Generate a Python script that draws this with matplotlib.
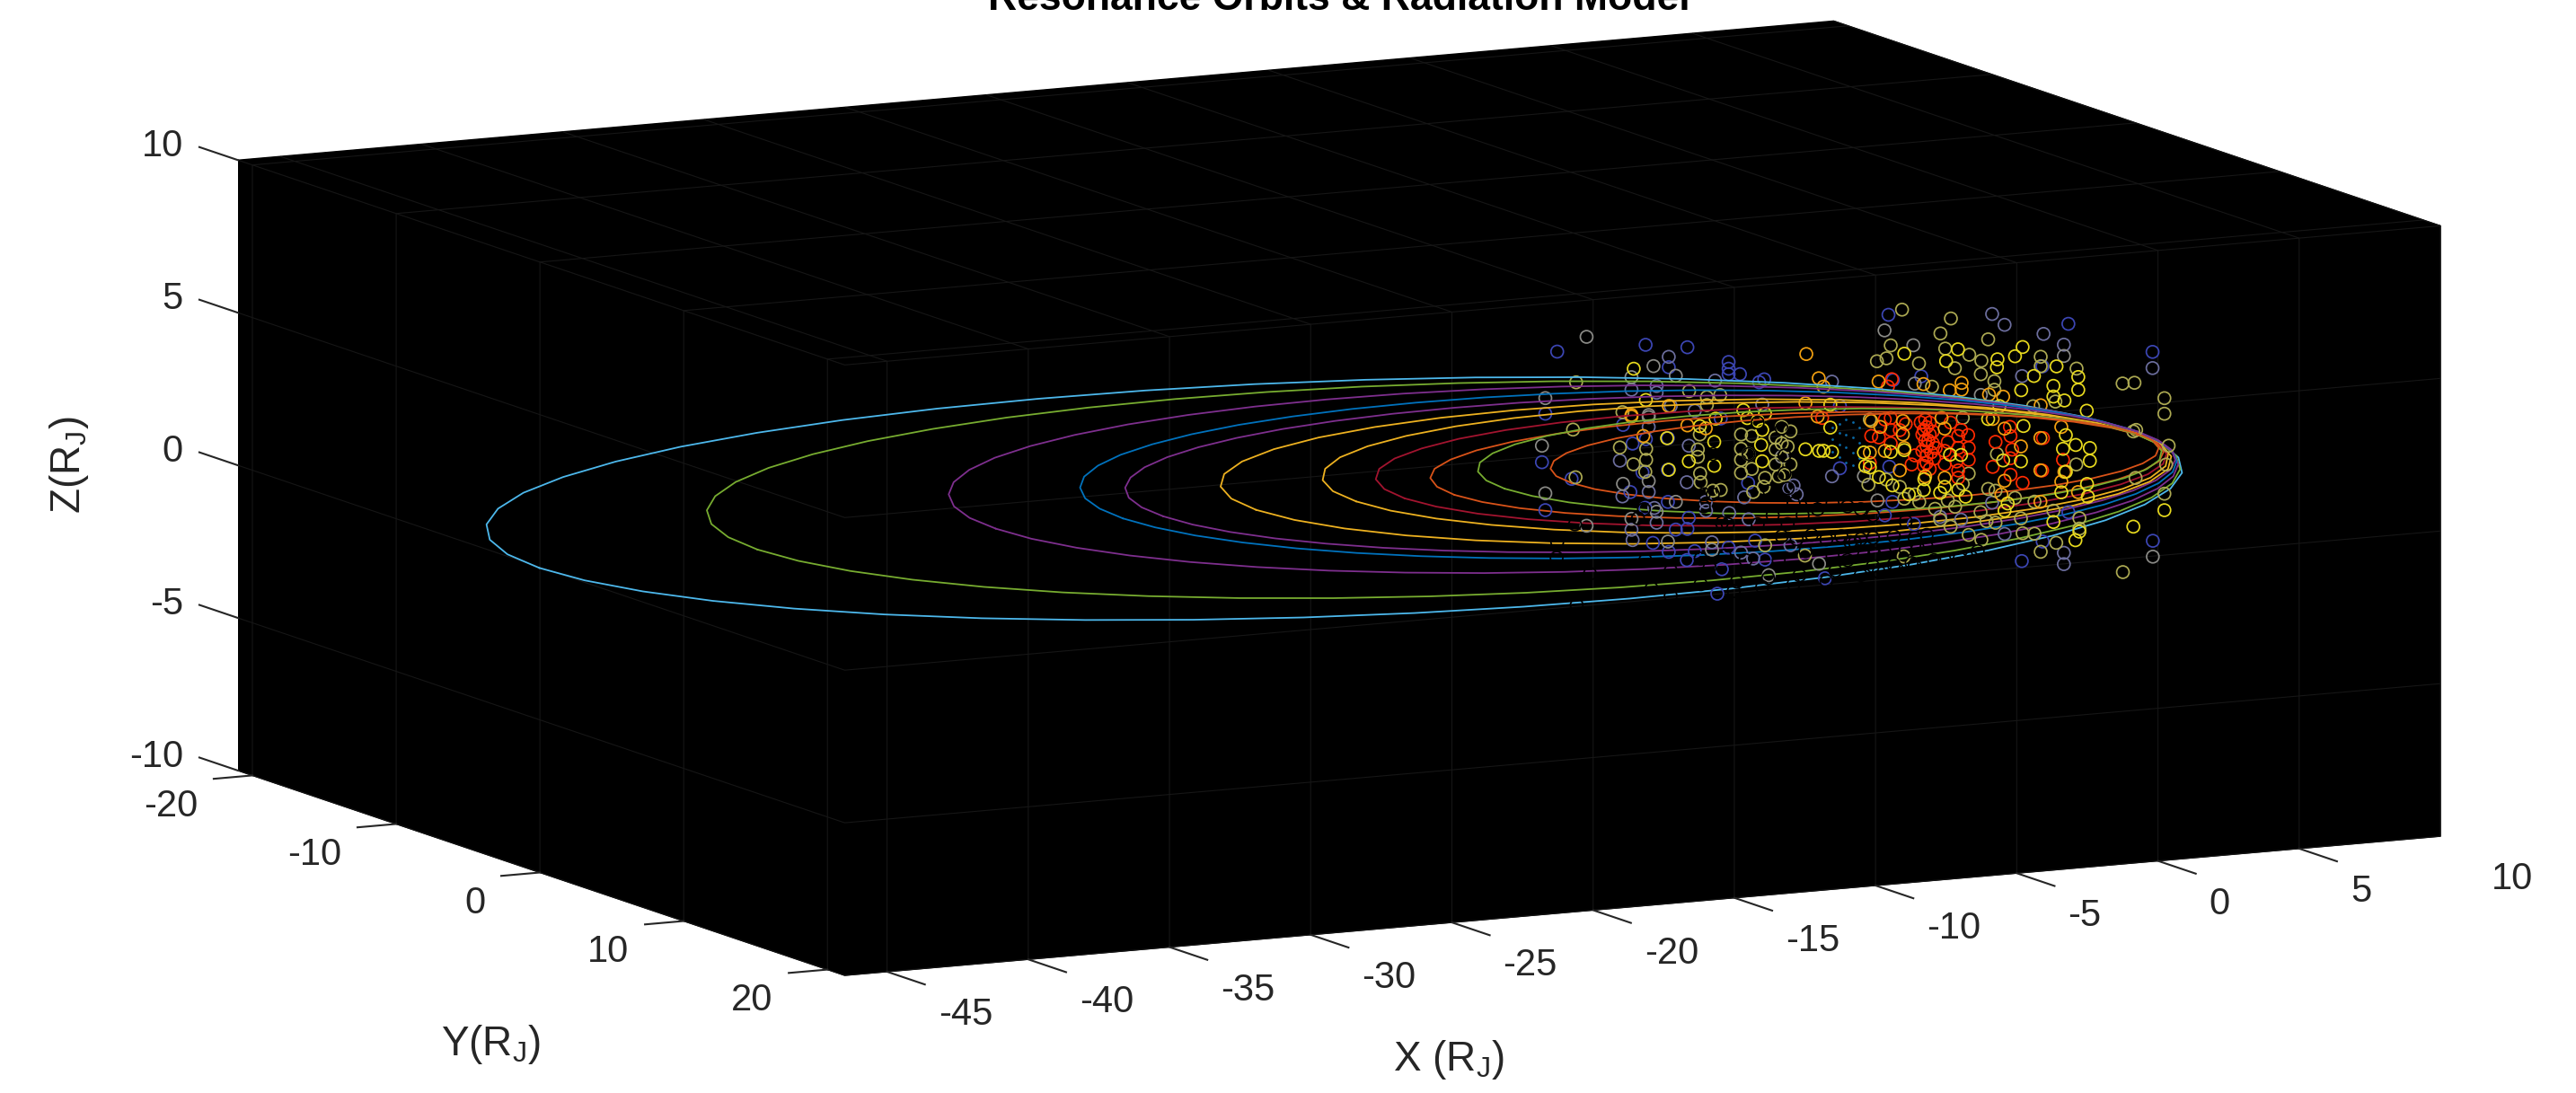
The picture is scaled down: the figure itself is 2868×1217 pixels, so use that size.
import matplotlib
matplotlib.use('AGG')
import matplotlib.pyplot as plt
from mpl_toolkits.mplot3d import proj3d

plt.rcParams['font.family'] = ['Liberation Sans', 'DejaVu Sans']
plt.rcParams['mathtext.fontset'] = 'custom'
plt.rcParams['mathtext.rm'] = 'Liberation Sans'
plt.rcParams['grid.color'] = '#161616'
plt.rcParams['grid.linewidth'] = 0.8

# axis ticks
x_ticks = [-45, -40, -35, -30, -25, -20, -15, -10, -5, 0, 5, 10]
y_ticks = [-20, -10, 0, 10, 20]
z_ticks = [-10, -5, 0, 5, 10]

orbit_z = 0.07

o1_x = [9.54, 9.31, 8.58, 7.41, 5.77, 3.72, 1.30, -1.47, -4.53, -7.83, -11.32, -14.93, -18.60, -22.27, -25.88, -29.37, -32.67, -35.73, -38.50, -40.93, -42.97, -44.61, -45.79, -46.51, -46.75]
o1_up = [0.45, 3.13, 5.77, 8.32, 10.74, 12.98, 15.00, 16.77, 18.27, 19.47, 20.33, 20.85, 21.03, 20.85, 20.33, 19.47, 18.27, 16.77, 15.00, 12.98, 10.74, 8.32, 5.77, 3.13, 0.45]
o1_low = [0.45, -2.24, -4.88, -7.43, -9.85, -12.09, -14.10, -15.88, -17.38, -18.57, -19.44, -19.96, -20.13, -19.96, -19.44, -18.57, -17.38, -15.88, -14.10, -12.09, -9.85, -7.43, -4.88, -2.24, 0.45]

o2_x = [9.51, 9.31, 8.68, 7.66, 6.26, 4.50, 2.40, 0.01, -2.63, -5.48, -8.50, -11.61, -14.78, -17.95, -21.06, -24.08, -26.93, -29.57, -31.96, -34.06, -35.82, -37.23, -38.25, -38.87, -39.08]
o2_up = [0.55, 2.99, 5.39, 7.70, 9.90, 11.93, 13.76, 15.38, 16.73, 17.81, 18.60, 19.07, 19.23, 19.07, 18.60, 17.81, 16.73, 15.38, 13.76, 11.93, 9.90, 7.70, 5.39, 2.99, 0.55]
o2_low = [0.55, -1.89, -4.28, -6.60, -8.79, -10.82, -12.66, -14.27, -15.63, -16.70, -17.50, -17.97, -18.13, -17.97, -17.50, -16.70, -15.63, -14.27, -12.66, -10.82, -8.79, -6.60, -4.28, -1.89, 0.55]

o3_x = [9.56, 9.40, 8.88, 8.03, 6.87, 5.41, 3.68, 1.70, -0.48, -2.85, -5.33, -7.91, -10.54, -13.16, -15.74, -18.22, -20.59, -22.77, -24.75, -26.48, -27.94, -29.10, -29.95, -30.47, -30.63]
o3_up = [0.54, 2.69, 4.80, 6.84, 8.77, 10.55, 12.17, 13.58, 14.78, 15.74, 16.42, 16.85, 16.98, 16.85, 16.42, 15.74, 14.78, 13.58, 12.17, 10.55, 8.77, 6.84, 4.80, 2.69, 0.54]
o3_low = [0.54, -1.60, -3.71, -5.75, -7.68, -9.47, -11.09, -12.50, -13.69, -14.65, -15.34, -15.76, -15.90, -15.76, -15.34, -14.65, -13.69, -12.50, -11.09, -9.47, -7.68, -5.75, -3.71, -1.60, 0.54]

o4_x = [9.60, 9.44, 8.99, 8.24, 7.21, 5.90, 4.36, 2.60, 0.66, -1.45, -3.67, -5.96, -8.30, -10.63, -12.93, -15.15, -17.25, -19.19, -20.96, -22.50, -23.81, -24.84, -25.59, -26.04, -26.20]
o4_up = [0.67, 2.60, 4.49, 6.32, 8.06, 9.67, 11.11, 12.39, 13.47, 14.32, 14.94, 15.32, 15.44, 15.32, 14.94, 14.32, 13.47, 12.39, 11.11, 9.67, 8.06, 6.32, 4.49, 2.60, 0.67]
o4_low = [0.67, -1.26, -3.15, -4.98, -6.72, -8.33, -9.78, -11.05, -12.13, -12.99, -13.60, -13.98, -14.10, -13.98, -13.60, -12.99, -12.13, -11.05, -9.78, -8.33, -6.72, -4.98, -3.15, -1.26, 0.67]

o5_x = [9.60, 9.45, 9.02, 8.29, 7.29, 6.04, 4.55, 2.85, 0.98, -1.05, -3.18, -5.40, -7.65, -9.89, -12.11, -14.25, -16.28, -18.15, -19.84, -21.33, -22.58, -23.58, -24.31, -24.75, -24.89]
o5_up = [0.90, 2.68, 4.43, 6.12, 7.71, 9.19, 10.53, 11.70, 12.70, 13.49, 14.06, 14.41, 14.52, 14.41, 14.06, 13.49, 12.70, 11.70, 10.53, 9.19, 7.71, 6.12, 4.43, 2.68, 0.90]
o5_low = [0.90, -0.87, -2.63, -4.32, -5.91, -7.39, -8.73, -9.90, -10.89, -11.69, -12.26, -12.61, -12.72, -12.61, -12.26, -11.69, -10.89, -9.90, -8.73, -7.39, -5.91, -4.32, -2.63, -0.87, 0.90]

o6_x = [9.41, 9.18, 8.47, 7.33, 5.77, 3.85, 1.63, -0.84, -3.46, -6.16, -8.86, -11.49, -13.95, -16.18, -18.10, -19.65, -20.80, -21.50, -21.74]
o6_up = [1.18, 3.37, 5.49, 7.50, 9.30, 10.86, 12.13, 13.06, 13.63, 13.82, 13.63, 13.06, 12.13, 10.86, 9.30, 7.50, 5.49, 3.37, 1.18]
o6_low = [1.18, -1.02, -3.14, -5.15, -6.95, -8.51, -9.78, -10.70, -11.27, -11.46, -11.27, -10.70, -9.78, -8.51, -6.95, -5.15, -3.14, -1.02, 1.18]

o7_x = [9.35, 9.14, 8.51, 7.50, 6.12, 4.42, 2.46, 0.27, -2.04, -4.44, -6.83, -9.15, -11.34, -13.30, -15.00, -16.37, -17.39, -18.02, -18.22]
o7_up = [1.22, 3.22, 5.18, 7.00, 8.66, 10.09, 11.24, 12.09, 12.61, 12.79, 12.61, 12.09, 11.24, 10.09, 8.66, 7.00, 5.18, 3.22, 1.22]
o7_low = [1.22, -0.79, -2.74, -4.57, -6.23, -7.65, -8.80, -9.66, -10.18, -10.36, -10.18, -9.66, -8.80, -7.65, -6.23, -4.57, -2.74, -0.79, 1.22]

o8_x = [9.37, 9.17, 8.58, 7.62, 6.33, 4.72, 2.87, 0.83, -1.36, -3.62, -5.87, -8.06, -10.11, -11.96, -13.56, -14.86, -15.82, -16.40, -16.60]
o8_up = [1.41, 3.20, 4.95, 6.59, 8.07, 9.34, 10.38, 11.14, 11.61, 11.77, 11.61, 11.14, 10.38, 9.34, 8.07, 6.59, 4.95, 3.20, 1.41]
o8_low = [1.41, -0.39, -2.13, -3.78, -5.26, -6.52, -7.57, -8.33, -8.79, -8.95, -8.79, -8.33, -7.57, -6.52, -5.26, -3.78, -2.13, -0.39, 1.41]

o9_x = [9.35, 9.17, 8.62, 7.73, 6.52, 5.02, 3.29, 1.37, -0.67, -2.78, -4.88, -6.92, -8.84, -10.58, -12.07, -13.29, -14.18, -14.72, -14.91]
o9_up = [1.55, 3.12, 4.65, 6.10, 7.38, 8.51, 9.42, 10.09, 10.50, 10.64, 10.50, 10.09, 9.42, 8.51, 7.38, 6.10, 4.65, 3.12, 1.55]
o9_low = [1.55, -0.03, -1.56, -3.01, -4.29, -5.42, -6.33, -7.00, -7.41, -7.55, -7.41, -7.00, -6.33, -5.42, -4.29, -3.01, -1.56, -0.03, 1.55]

o10_x = [9.35, 9.18, 8.67, 7.85, 6.73, 5.36, 3.76, 2.00, 0.12, -1.82, -3.76, -5.64, -7.40, -8.99, -10.37, -11.49, -12.31, -12.81, -12.98]
o10_up = [1.25, 2.85, 4.42, 5.89, 7.21, 8.36, 9.28, 9.96, 10.38, 10.52, 10.38, 9.96, 9.28, 8.36, 7.21, 5.89, 4.42, 2.85, 1.25]
o10_low = [1.25, -0.36, -1.92, -3.39, -4.71, -5.86, -6.78, -7.46, -7.89, -8.02, -7.89, -7.46, -6.78, -5.86, -4.71, -3.39, -1.92, -0.36, 1.25]

o11_x = [9.43, 9.28, 8.83, 8.09, 7.08, 5.85, 4.42, 2.83, 1.14, -0.60, -2.34, -4.02, -5.61, -7.04, -8.28, -9.28, -10.02, -10.48, -10.62]
o11_up = [1.27, 2.61, 3.91, 5.14, 6.23, 7.18, 7.95, 8.53, 8.87, 8.99, 8.87, 8.53, 7.95, 7.18, 6.23, 5.14, 3.91, 2.61, 1.27]
o11_low = [1.27, -0.07, -1.37, -2.59, -3.69, -4.64, -5.41, -5.98, -6.33, -6.45, -6.33, -5.98, -5.41, -4.64, -3.69, -2.59, -1.37, -0.07, 1.27]

# radiation rings by colour class (y is not readable in this view, kept at 0)
blue_x = [-10.48, -7.35, -6.53, -5.87, -4.41, -4.41, -4.41, -4.01, -3.15, -3.33, -10.90, -0.47, 1.25, 7.62, 10.60, 6.70, 2.41, 1.41, -8.15, -4.69, -6.56, -7.34, -7.81, -11.02, -7.46, -6.56, -0.47, -9.97, -3.72, -7.89, -10.90, -7.36, -6.56, -5.82, -6.28, -5.87, 1.28, 1.39, 1.12, 7.62, 2.15, -7.09, -6.53, -5.61, -4.41, -3.47, -5.89, -4.65, -3.12, -1.00, -4.81, 6.71, 10.61, 5.97]
blue_z = [4.16, 4.13, 3.33, 3.93, 3.33, 3.11, 2.93, 2.90, 2.66, 2.58, 2.16, 1.57, 4.42, 3.61, 2.45, 2.29, 2.31, 2.27, 1.57, 1.50, 1.01, 1.04, 0.93, 0.58, -0.04, -0.03, -0.47, -0.05, -0.69, -0.65, -1.00, -1.21, -1.08, -1.66, -2.01, -2.02, -0.56, -1.72, -2.14, -2.56, -2.51, -2.38, -2.72, -2.77, -2.75, -2.60, -3.04, -3.44, -3.25, -4.03, -4.23, -3.45, -3.74, -4.03]

slate_x = [-6.53, -4.89, -0.75, -7.85, -6.96, -6.96, -6.46, -5.61, -3.22, 4.92, 5.36, 6.74, 7.46, 10.60, 5.98, -7.24, -5.82, -8.26, -2.27, -3.86, -0.75, -5.89, -8.17, -7.24, -7.04, -5.22, -5.21, -4.39, -6.96, -3.70, -7.85, -2.00, -2.11, 4.92, 3.82, 3.08, -7.81, -5.00, -3.97, -2.22, -3.54, 5.36, 7.46, 7.46]
slate_z = [3.67, 2.76, 2.39, 2.70, 2.75, 2.53, 2.05, 1.83, 1.84, 4.15, 3.76, 3.35, 2.94, 1.92, 2.03, 1.43, 0.70, 0.41, -0.98, -1.15, -0.71, -0.49, -0.77, -0.70, -1.24, -1.19, -1.48, -1.62, -1.73, -1.88, -1.89, -1.20, -0.90, -2.03, -2.50, -2.35, -2.23, -2.53, -2.95, -2.85, -3.18, -3.09, -3.88, -4.25]

grey_x = [-9.44, -7.07, -6.28, -7.85, -10.90, -7.24, 1.11, 2.13, 7.46, 2.18, 4.52, -7.24, -11.02, -2.53, -7.24, -8.15, -10.90, -6.28, -6.96, -7.85, -9.44, 0.38, 0.86, -6.56, -5.00, -1.21, -2.99, 10.61]
grey_z = [4.56, 3.41, 3.03, 3.11, 2.67, 1.82, 3.92, 3.35, 2.57, 2.09, 1.53, 1.75, 1.12, 0.07, -0.34, -0.36, -0.45, -1.10, -1.37, -1.53, -1.63, -0.80, -1.63, -2.38, -2.77, -3.54, -3.77, -4.26]

olive_x = [-9.81, -5.81, -5.18, -4.71, -8.17, -5.18, 1.73, 3.46, 3.09, 4.78, 1.33, 3.26, 4.11, 1.18, 0.84, 6.64, 2.33, 4.54, 3.60, 6.64, 7.91, 4.52, 9.54, 9.96, 5.00, 2.79, 5.00, 11.02, 7.16, 6.37, 11.02, 0.59, 3.88, 5.09, 7.90, 4.09, -9.92, -5.43, -3.97, -3.59, -8.26, -7.33, -5.50, -3.97, -7.33, -5.50, -3.70, -3.97, -2.53, -7.78, -7.36, -5.42, -3.59, -3.97, -9.83, -5.40, -3.12, -4.69, -4.97, -3.17, -2.43, -3.54, -2.75, -2.75, -2.75, -2.64, -2.32, -2.22, -2.22, -2.53, 10.02, 9.92, 11.17, 11.08, 10.00, 11.02, 1.17, 0.54, 1.65, 3.88, 4.78, 5.04, 5.73, 6.42, 1.81, 2.18, 2.34, 3.35, 3.61, 4.51, 2.90, 3.08, 4.72, 5.94, 7.09, 8.01, 8.01, 5.04, 3.45, 4.09, 6.00, 6.42, 4.54, 7.19, 6.64, 9.55, 1.79, -3.12, -1.71]
olive_z = [3.10, 2.49, 2.24, 2.27, 1.99, 1.98, 4.55, 4.12, 3.66, 3.33, 3.41, 3.15, 2.88, 3.00, 2.93, 2.61, 2.74, 2.65, 2.48, 2.30, 2.12, 2.21, 1.50, 1.49, 1.94, 1.94, 1.66, 0.90, 1.10, 1.01, 0.39, 1.04, 0.83, -0.45, -1.02, -1.01, 1.56, 1.04, 0.92, 0.84, 0.84, 0.72, 0.55, 0.45, 0.36, 0.31, 0.26, 0.09, 0.51, 0.25, -0.03, -0.24, -0.24, -0.34, -0.01, -0.53, -0.57, -0.84, -0.84, -0.86, -0.53, -1.00, 0.72, 0.33, -0.16, -0.56, 0.39, 0.88, -0.20, 1.05, -0.06, -0.10, -0.67, -1.28, -1.63, -2.23, -0.97, -1.09, -1.25, -1.33, -1.57, -1.65, -1.94, -2.12, -1.65, -1.54, -1.80, -1.83, -2.06, -2.31, -2.07, -2.44, -2.62, -2.63, -2.47, -2.79, -3.13, -2.70, -2.70, -3.02, -3.12, -3.17, -3.22, -3.53, -3.78, -4.68, -3.54, -2.78, -3.23]

yellow_x = [-7.77, -7.34, -0.81, -3.89, -3.12, 6.00, 3.71, 1.81, 5.73, 3.29, 5.11, 5.09, 7.20, 6.40, 7.97, 5.95, 7.09, 7.97, 7.09, 7.48, 5.18, 8.27, -5.43, -4.87, -0.81, -3.38, -3.75, -3.22, -6.59, -4.92, -3.26, -1.69, -1.21, -1.05, -0.75, -5.82, -4.92, -3.22, -6.53, 6.03, 4.78, 7.53, 7.88, 7.43, 8.38, 0.38, 1.33, 1.81, 3.43, 3.82, 5.31, 5.94, 8.38, 0.43, 0.59, 7.53, 2.52, 8.28, 11.02, 8.31, 7.37, 0.91, 1.39, 2.50, 3.24, 3.72, 5.47, 1.97, 3.08, 3.98, 5.36, 7.09, 9.92, 7.87, 8.01]
yellow_z = [3.38, 2.32, 1.64, 1.71, 1.53, 2.98, 3.09, 3.10, 2.70, 2.74, 2.65, 2.39, 2.25, 2.00, 1.84, 1.57, 1.62, 1.42, 1.27, 1.11, 1.11, 0.71, 1.31, 1.51, 0.89, 1.31, 1.44, 1.01, 1.01, 0.75, 0.52, 0.25, 0.16, 0.15, 0.09, 0.19, -0.03, -0.02, -0.03, 0.39, 0.72, -0.03, -0.38, -0.47, -0.52, -0.02, -0.08, -0.06, -0.34, -0.38, -0.68, -0.76, -0.94, -0.47, -0.53, -1.23, -1.07, -1.69, -2.77, -2.11, -1.89, -0.87, -1.18, -1.42, -1.38, -1.51, -2.10, -1.52, -1.56, -1.76, -2.33, -2.84, -3.22, -3.50, -3.23]

orange_x = [-1.66, -1.22, -6.53, -1.05, -1.69, -7.85, 0.90, 2.49, 3.84, 3.84, 3.42, 4.81, 5.31, 6.64, -7.85, -5.87, -5.22, -1.26, -7.43, 0.64, 1.76, 0.96, 1.76, 3.24, 3.13, 4.94, 5.36, 6.63, 7.37, 1.81, 5.94, 0.59, 1.12, 1.65, 6.63, 7.48, 2.55, 3.24, 5.36, 7.37, 7.96, 5.25, 6.63]
orange_z = [3.37, 2.54, 2.06, 2.25, 1.76, 1.87, 2.26, 2.05, 1.98, 1.76, 1.77, 1.52, 1.41, 1.02, 1.82, 1.37, 1.22, 1.29, 1.15, 0.99, 0.90, 0.77, 0.46, 0.53, 0.89, 0.71, 0.36, -0.05, 0.25, 0.01, -0.27, -0.04, -0.03, -0.71, -1.11, -1.23, -0.98, -1.08, -1.35, -1.54, -1.93, -1.79, -2.14]

red_x = [1.37, 1.23, -1.10, 1.33, 1.33, 0.64, 2.39, 2.60, 2.45, 2.66, 2.82, 3.45, 3.72, 4.07, 5.55, 5.57, 6.72, 5.04, 1.33, 2.60, 2.92, 3.72, 4.09, 5.63, 2.18, 2.60, 2.87, 4.09, 5.57, 7.43, 0.59, 2.07, 2.50, 3.24, 3.72, 4.94, 6.69, 3.72, 5.57, 6.00, 2.55, 2.71, 2.50, 2.71, 2.55, 2.82, 2.45, 2.76, 2.60, 2.71, 1.12, 1.65, 0.91, 1.86, 3.35, 3.82, 3.66, 3.24]
red_z = [2.30, 2.07, 1.23, 1.03, 0.64, 0.50, 0.80, 0.63, 0.40, 0.19, 0.47, 0.71, 0.25, 0.25, 0.40, 0.10, -0.06, -0.05, 0.20, 0.00, -0.08, -0.14, -0.17, -0.35, -0.26, -0.30, -0.42, -0.56, -0.63, -0.83, -0.38, -0.55, -0.63, -0.64, -0.88, -0.86, -1.12, -1.12, -1.17, -1.47, 0.88, 0.77, 0.54, 0.38, 0.20, 0.08, -0.14, -0.21, -0.54, -0.75, 1.00, 0.61, 0.43, 0.79, 0.08, 0.44, -0.58, -0.20]

black_x = [-4.97, -3.70, -2.43, -2.53, -3.38, -5.29, -4.97, -2.96, -2.32, -2.43, -2.11, -1.47, -2.85, -2.32, -5.29, -4.65, -7.41, -7.62, -1.26, -0.73, -0.20, -9.85, -1.79, -3.38, -4.44, -10.48, -10.50, -9.32, -7.36, -7.14, -9.79, -6.46, -4.23, -3.22, -2.11, -0.95, -5.40, -4.12, -6.46, -5.08, -3.01, -1.90, -0.63, -2.53, -2.00, -1.47, -0.95, -0.42, -0.10, -1.69, -0.73, -0.20, -2.64, -3.81, -4.55, -5.40, -1.58, 0.27, 0.70, 1.44, 2.18, 2.60, 0.38, 0.75, 1.12, 1.86, 2.29, 2.60, 0.70, 1.44, 2.07, 2.87, 3.77, 4.41, 0.27, 0.91, 1.54, 2.18, 3.24, 4.19, 0.06, 0.27, 0.70, 1.86]
black_z = [0.36, 0.26, 0.11, 1.00, 1.26, -0.93, -0.96, -1.02, -0.98, -0.48, -1.49, -1.44, -1.82, -2.15, -1.33, -1.92, -1.25, -1.53, -1.75, -1.60, -1.74, -1.55, -1.90, -2.07, -1.98, -2.08, -2.59, -3.21, -2.92, -3.87, -4.20, -4.17, -4.19, -4.14, -4.13, -4.13, -3.87, -3.89, -3.34, -3.35, -3.86, -3.86, -3.81, -2.53, -2.67, -2.57, -2.76, -2.70, -2.92, -3.09, -3.31, -3.50, -3.31, -3.21, -3.00, -3.03, -4.66, -2.85, -2.84, -2.85, -2.96, -2.90, -3.40, -3.38, -3.36, -3.33, -3.31, -3.29, -3.77, -3.78, -3.78, -3.75, -3.77, -3.58, -4.03, -3.98, -3.94, -3.89, -3.78, -3.76, -2.94, -1.87, -2.10, -2.40]

dots_x = [-0.75, -0.75, -0.75, -0.50, -0.50, -0.50, -0.50, -0.25, -0.25, -0.25, -0.25, 0.00, 0.00, 0.00, 0.00, 0.20, 0.20, 0.20]
dots_z = [0.90, 0.50, 0.10, 1.00, 0.70, 0.30, -0.10, 1.10, 0.60, 0.20, -0.30, 1.00, 0.50, 0.00, -0.40, 0.80, 0.30, -0.20]

X_LIM = (-46.5, 10)
Y_LIM = (-21, 21.2)
Z_LIM = (-10, 10)
W, H = 2868, 1217

orbits = [
    (o1_x, o1_up, o1_low, '#4db8ec'),
    (o2_x, o2_up, o2_low, '#77ac30'),
    (o3_x, o3_up, o3_low, '#7e2f8e'),
    (o4_x, o4_up, o4_low, '#0072bd'),
    (o5_x, o5_up, o5_low, '#7e2f8e'),
    (o6_x, o6_up, o6_low, '#edb120'),
    (o7_x, o7_up, o7_low, '#edb120'),
    (o8_x, o8_up, o8_low, '#a2142f'),
    (o9_x, o9_up, o9_low, '#d95319'),
    (o10_x, o10_up, o10_low, '#77ac30'),
    (o11_x, o11_up, o11_low, '#d95319'),
]

rings = [
    (blue_x, blue_z, '#3c46b4'),
    (slate_x, slate_z, '#6c6e9e'),
    (grey_x, grey_z, '#8a8a86'),
    (olive_x, olive_z, '#aca952'),
    (red_x, red_z, '#ff2a00'),
    (orange_x, orange_z, '#f2a010'),
    (yellow_x, yellow_z, '#e8da1e'),
    (black_x, black_z, '#000000'),
]

fig = plt.figure(figsize=(W / 100, H / 100), dpi=100, facecolor='white')
ax = fig.add_axes([0, 0, 1, 1], projection='3d', computed_zorder=False)
ax.set_proj_type('ortho')
ax.view_init(elev=-9.88, azim=-63.06)
ax.set_box_aspect((1993, 1491, 690))

# far branches sit behind the rings, near branches in front of them
for ox, oup, olow, col in orbits:
    ax.plot(ox, oup, zs=orbit_z, color=col, lw=1.3, zorder=2)
    ax.plot(ox, olow, zs=orbit_z, color=col, lw=1.3, zorder=6)

ax.scatter(dots_x, [0] * len(dots_x), dots_z, s=4, color='#0a6aa8', linewidths=0, zorder=3, depthshade=False)
for rx, rz, col in rings:
    z_order = 7 if col == '#000000' else 4
    ax.scatter(rx, [0] * len(rx), rz, s=100, facecolors='none', edgecolors=col,
               linewidths=1.25, zorder=z_order, depthshade=False)

ax.set_xlim(*X_LIM)
ax.set_ylim(*Y_LIM)
ax.set_zlim(*Z_LIM)
ax.set_xticks(x_ticks)
ax.set_yticks(y_ticks)
ax.set_zticks(z_ticks)

for axis in (ax.xaxis, ax.yaxis, ax.zaxis):
    axis.set_ticks_position('none')
    axis.set_pane_color('black')
    axis.pane.set_edgecolor('black')
    axis.line.set_color((0, 0, 0, 0))

# tick marks and labels, placed in data space the way the reference has them
TICK = '#262626'
for t in x_ticks:
    ax.plot([t, t], [Y_LIM[1], Y_LIM[1] + 2.63], [-10, -10], color=TICK, lw=1.5, zorder=8)
    ax.text(t, Y_LIM[1] + 3.57, -10.85, str(t), ha='left', va='center', fontsize=30, color=TICK)
for t in y_ticks:
    ax.plot([X_LIM[0], X_LIM[0] - 1.37], [t, t], [-10, -10], color=TICK, lw=1.5, zorder=8)
    ax.text(X_LIM[0] - 1.94, t, -10.85, str(t), ha='right', va='center', fontsize=30, color=TICK)
for t in z_ticks:
    ax.plot([X_LIM[0], X_LIM[0]], [Y_LIM[0], Y_LIM[0] - 2.69], [t, t], color=TICK, lw=1.5, zorder=8)
    ax.text(X_LIM[0], Y_LIM[0] - 3.82, t - 0.16, str(t), ha='right', va='center', fontsize=30, color=TICK)


def corner_px(x, y, z):
    ax.apply_aspect()
    px, py, _ = proj3d.proj_transform(x, y, z, ax.get_proj())
    return ax.transData.transform((px, py))


# fit the box onto the reference corners: lower left (265,858) and lower right (2717,931)
a = corner_px(X_LIM[0], Y_LIM[0], -10)
b = corner_px(X_LIM[1], Y_LIM[1], -10)
size = ax.get_position().height * H * (2717 - 265) / (b[0] - a[0])
ax.set_position([0, 0, size / W, size / H])
a = corner_px(X_LIM[0], Y_LIM[0], -10)
ax.set_position([(265 - a[0]) / W, (H - 858 - a[1]) / H, size / W, size / H])

fig.text(1491 / W, 1 - 11 / H, 'Resonance Orbits & Radiation Model', ha='center', va='baseline',
         fontsize=32, fontweight='bold', color='black')
fig.text(1613 / W, 1 - 1180 / H, r'X (R$_{\mathrm{J}}$)', ha='center', va='center', fontsize=33, color=TICK)
fig.text(547 / W, 1 - 1163 / H, r'Y(R$_{\mathrm{J}}$)', ha='center', va='center', fontsize=33, color=TICK)
fig.text(77 / W, 1 - 518 / H, r'Z(R$_{\mathrm{J}}$)', ha='center', va='center', rotation=90, fontsize=33, color=TICK)

fig.savefig('out.png', dpi=100, facecolor='white')
